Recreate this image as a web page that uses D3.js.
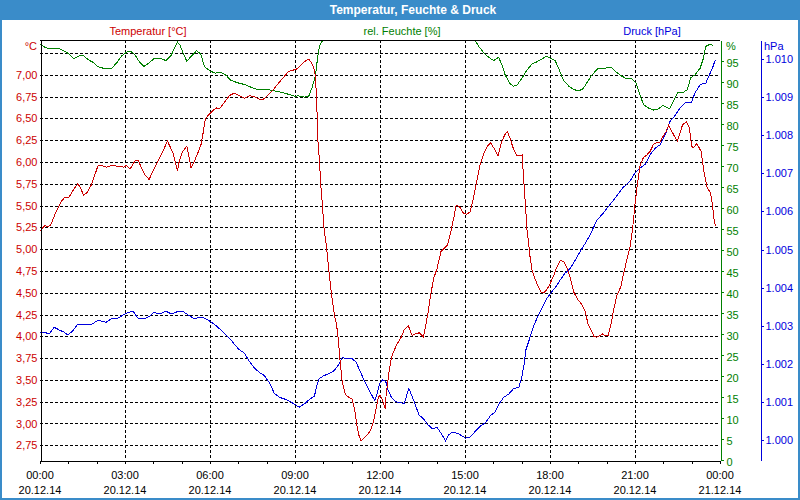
<!DOCTYPE html>
<html><head><meta charset="utf-8">
<script src="https://cdn.jsdelivr.net/npm/d3@7"></script>
<style>html,body{margin:0;padding:0;background:#fff;} svg{display:block;}</style>
</head><body><svg id="c" width="800" height="500"></svg>
<script>
// ---- data (minutes since 20.12.14 00:00) ----
const tempMin = [0,10,17,23,31,40,45,52,61,66,73,80,86,92,100,109,116,123,131,140,151,165,178,183,191,201,208,215,222,231,239,250,260,270,275,282,287,291,295,302,311,315,320,327,334,341,346,350,357,366,373,380,390,401,411,422,433,443,454,464,473,482,493,503,514,525,532,542,551,560,569,577,582,584,586,587,589,592,594,598,601,607,612,617,623,628,631,635,640,647,654,661,666,671,676,680,686,693,700,706,711,716,720,725,731,733,739,744,750,757,764,771,780,788,796,803,812,817,822,827,834,841,849,856,863,870,877,881,888,897,904,911,918,925,932,940,947,954,961,970,977,984,990,996,1002,1010,1021,1024,1028,1031,1035,1038,1042,1049,1055,1062,1070,1079,1088,1095,1102,1109,1116,1123,1130,1139,1148,1155,1160,1167,1173,1179,1186,1192,1196,1203,1209,1214,1221,1230,1235,1242,1249,1255,1260,1265,1271,1278,1285,1292,1299,1306,1313,1320,1326,1331,1338,1345,1350,1355,1361,1369,1375,1380,1383,1391,1400,1406,1412,1420,1424,1427,1430];
const tempVal = [5.21,5.27,5.26,5.28,5.39,5.49,5.55,5.59,5.59,5.64,5.70,5.75,5.70,5.62,5.65,5.74,5.85,5.96,5.96,5.94,5.96,5.95,5.94,5.96,5.92,6.01,6.02,5.93,5.85,5.80,5.89,6.01,6.12,6.24,6.18,6.10,5.99,5.90,6.01,6.12,6.18,6.07,5.93,6.01,6.10,6.20,6.35,6.49,6.54,6.59,6.62,6.61,6.68,6.76,6.79,6.76,6.73,6.76,6.75,6.72,6.72,6.76,6.82,6.89,6.96,7.03,7.05,7.06,7.10,7.15,7.18,7.12,7.04,6.89,6.74,6.47,6.20,6.01,5.78,5.51,5.26,5.01,4.74,4.49,4.26,4.13,4.00,3.75,3.48,3.33,3.30,3.28,3.17,2.98,2.85,2.80,2.83,2.87,2.92,3.02,3.15,3.29,3.33,3.27,3.17,3.33,3.59,3.75,3.84,3.92,3.98,4.07,4.12,4.01,4.03,4.04,3.99,4.13,4.28,4.47,4.67,4.78,4.97,5.01,5.05,5.20,5.38,5.50,5.49,5.41,5.40,5.43,5.59,5.78,5.97,6.10,6.18,6.22,6.16,6.07,6.22,6.31,6.35,6.26,6.16,6.07,6.08,5.82,5.51,5.24,5.05,4.90,4.76,4.65,4.57,4.50,4.51,4.59,4.70,4.80,4.87,4.86,4.78,4.67,4.51,4.42,4.36,4.28,4.15,4.07,4.00,3.99,4.01,4.03,4.01,4.01,4.13,4.28,4.46,4.57,4.70,4.86,5.01,5.24,5.51,5.74,5.97,6.05,6.08,6.12,6.20,6.22,6.23,6.30,6.35,6.42,6.35,6.28,6.24,6.33,6.43,6.46,6.39,6.18,6.16,6.21,6.12,5.89,5.72,5.64,5.51,5.36,5.27];

const humMin = [0,10,21,42,56,63,72,80,91,102,112,123,137,151,162,172,183,192,201,211,220,229,241,257,267,278,285,291,296,303,311,320,332,341,348,359,371,383,394,404,419,433,450,461,482,500,514,528,539,548,560,569,576,582,584,587,590,593,600,610,650,750,850,905,922,929,940,950,961,971,978,985,994,1002,1010,1021,1031,1042,1052,1063,1072,1081,1091,1098,1109,1120,1130,1141,1150,1158,1167,1182,1196,1209,1221,1232,1242,1253,1262,1269,1278,1289,1300,1309,1319,1326,1333,1341,1350,1362,1371,1378,1387,1398,1405,1410,1419,1426];
const humVal = [99.0,98.3,97.9,97.9,97.1,96.5,95.5,96.1,96.4,95.3,94.7,93.6,93.2,93.2,94.5,96.1,97.1,97.3,96.5,94.7,93.7,94.4,95.5,95.5,95.1,96.4,98.1,99.5,98.9,96.9,94.9,96.1,97.5,96.5,93.7,92.7,92.1,92.3,91.6,90.4,89.8,89.4,88.6,88.2,88.2,87.8,87.5,87.0,86.6,86.7,86.4,86.6,88.6,91.0,92.0,95.0,97.5,98.9,100.1,101.5,102.5,103.0,102.5,101.5,99.8,98.5,96.9,95.9,95.1,95.9,94.1,91.7,89.8,89.0,89.2,91.0,92.8,94.3,94.8,95.5,96.1,95.7,95.1,93.3,90.3,89.0,88.2,87.9,88.4,89.8,91.4,93.3,93.3,93.5,92.3,91.4,90.8,90.8,89.8,87.4,84.6,83.8,83.3,83.6,84.4,84.0,83.6,85.4,87.4,87.5,88.2,91.0,91.7,93.3,95.7,98.5,99.0,98.7];

const presMin = [0,10,19,30,42,51,59,70,80,95,110,121,133,140,151,162,172,183,197,202,209,222,232,241,253,267,278,289,302,313,327,341,355,369,383,394,404,414,422,433,443,454,464,475,486,496,507,517,528,539,549,560,570,581,586,591,601,612,623,631,640,649,661,669,678,686,695,702,709,714,720,726,732,737,744,753,764,771,776,781,788,796,803,812,820,831,841,849,859,866,873,887,901,911,922,932,943,954,963,971,982,993,1003,1014,1020,1025,1029,1036,1045,1055,1065,1074,1083,1093,1102,1112,1123,1134,1144,1155,1165,1179,1193,1207,1221,1235,1249,1260,1271,1282,1292,1303,1313,1324,1334,1345,1355,1366,1379,1387,1398,1410,1417,1424,1430];
const presVal = [1002.81,1002.83,1002.78,1002.96,1002.88,1002.83,1002.76,1002.87,1003.04,1003.04,1003.04,1003.13,1003.12,1003.09,1003.18,1003.18,1003.25,1003.33,1003.38,1003.29,1003.18,1003.18,1003.25,1003.35,1003.31,1003.38,1003.31,1003.36,1003.38,1003.29,1003.18,1003.23,1003.16,1003.04,1002.89,1002.76,1002.63,1002.48,1002.37,1002.28,1002.07,1001.89,1001.78,1001.69,1001.50,1001.23,1001.12,1001.08,1001.02,1000.94,1000.86,1000.95,1001.06,1001.15,1001.41,1001.61,1001.69,1001.74,1001.82,1001.95,1002.17,1002.13,1002.13,1002.05,1001.80,1001.58,1001.36,1001.19,1001.03,1001.23,1001.50,1001.58,1001.54,1001.32,1001.12,1001.00,1000.99,1000.94,1001.15,1001.35,1001.15,1000.88,1000.65,1000.56,1000.42,1000.29,1000.33,1000.18,999.98,1000.14,1000.21,1000.16,1000.05,1000.08,1000.23,1000.36,1000.45,1000.64,1000.73,1000.93,1001.12,1001.21,1001.35,1001.38,1001.63,1001.98,1002.37,1002.63,1002.98,1003.27,1003.51,1003.73,1003.88,1004.03,1004.21,1004.38,1004.51,1004.73,1004.95,1005.17,1005.39,1005.76,1005.96,1006.18,1006.40,1006.63,1006.79,1007.01,1007.14,1007.24,1007.49,1007.66,1007.75,1008.01,1008.36,1008.52,1008.71,1008.85,1008.85,1009.11,1009.33,1009.37,1009.57,1009.76,1009.98];

const timeLabels = ["00:00","03:00","06:00","09:00","12:00","15:00","18:00","21:00","00:00"];
const dateLabels = ["20.12.14","20.12.14","20.12.14","20.12.14","20.12.14","20.12.14","20.12.14","20.12.14","21.12.14"];
const tempTicks = [2.75,3.00,3.25,3.50,3.75,4.00,4.25,4.50,4.75,5.00,5.25,5.50,5.75,6.00,6.25,6.50,6.75,7.00];
const gridTicks = [2.75,3.00,3.25,3.50,3.75,4.00,4.25,4.50,4.75,5.00,5.25,5.50,5.75,6.00,6.25,6.50,6.75,7.00,7.25];
const humTicks = [0,5,10,15,20,25,30,35,40,45,50,55,60,65,70,75,80,85,90,95];
const presTicks = [1000,1001,1002,1003,1004,1005,1006,1007,1008,1009,1010];

// ---- setup ----
const FONT = "'Liberation Sans', Arial, sans-serif";
const RED = "#cc0000", GREEN = "#008000", BLUE = "#0000dd", FRAME = "#3a8cc9";
const L = 40, R = 720, T = 40, B = 460;
const de = d3.formatLocale({decimal: ",", thousands: ".", grouping: [3], currency: ["", "€"]});

const svg = d3.select("#c").style("font-family", FONT).style("font-size", "11px");
svg.append("rect").attr("width", 800).attr("height", 500).attr("fill", "#fff");
svg.append("rect").attr("x", 0).attr("y", 0).attr("width", 800).attr("height", 20).attr("fill", FRAME);
svg.append("rect").attr("x", 0).attr("y", 0).attr("width", 2).attr("height", 500).attr("fill", FRAME);
svg.append("rect").attr("x", 798).attr("y", 0).attr("width", 2).attr("height", 500).attr("fill", FRAME);
svg.append("rect").attr("x", 0).attr("y", 498).attr("width", 800).attr("height", 2).attr("fill", FRAME);
svg.append("text").attr("x", 413).attr("y", 14).attr("text-anchor", "middle")
  .attr("fill", "#fff").attr("font-weight", "bold").attr("font-size", "12px")
  .text("Temperatur, Feuchte & Druck");

const x = d3.scaleLinear().domain([0, 1440]).range([L, R]);
const yT = d3.scaleLinear().domain([2.581, 7.399]).range([B, T]);
const yH = d3.scaleLinear().domain([0, 100]).range([B, T]);
const yP = d3.scaleLinear().domain([999.475, 1010.5]).range([B, T]);
const px = v => Math.round(v) + 0.5;

// grid
const grid = svg.append("g").attr("stroke", "#000").attr("stroke-dasharray", "3,2").attr("shape-rendering", "crispEdges");
grid.selectAll("line.h").data(gridTicks).join("line").attr("class", "h")
  .attr("x1", L).attr("x2", R).attr("y1", d => px(yT(d))).attr("y2", d => px(yT(d)));
grid.selectAll("line.v").data(d3.range(180, 1440, 180)).join("line").attr("class", "v")
  .attr("y1", T).attr("y2", B).attr("x1", d => px(x(d))).attr("x2", d => px(x(d)));

// series
svg.append("clipPath").attr("id", "clip").append("rect").attr("x", L).attr("y", T).attr("width", R - L).attr("height", B - T);
const series = [
  [humMin, humVal, yH, GREEN],
  [presMin, presVal, yP, BLUE],
  [tempMin, tempVal, yT, RED]
];
series.forEach(([m, v, ys, col]) => {
  const pts = d3.zip(m, v);
  svg.append("path").datum(pts).attr("clip-path", "url(#clip)")
    .attr("fill", "none").attr("stroke", col).attr("stroke-width", 1)
    .attr("shape-rendering", "crispEdges")
    .attr("d", d3.line().x(d => x(d[0])).y(d => ys(d[1])));
});

// frame top
svg.append("line").attr("x1", L).attr("x2", R).attr("y1", T + 0.5).attr("y2", T + 0.5).attr("stroke", "#000").attr("shape-rendering", "crispEdges");

// left axis
const ax = svg.append("g").attr("transform", `translate(${L + 0.5},0)`)
  .call(d3.axisLeft(yT).tickValues(tempTicks).tickSize(0).tickSizeOuter(0).tickPadding(3).tickFormat(de.format(".2f")));
ax.select(".domain").attr("stroke", "#000").attr("shape-rendering", "crispEdges");
ax.selectAll("text").attr("fill", RED).attr("font-family", FONT).attr("font-size", "11px");
ax.attr("font-family", null).attr("font-size", null);

// bottom axis
const bx = svg.append("g").attr("transform", `translate(0,${B + 0.5})`)
  .call(d3.axisBottom(x).tickValues(d3.range(0, 1441, 60)).tickSize(3).tickSizeOuter(0).tickFormat(""));
bx.selectAll("path,line").attr("stroke", "#000").attr("shape-rendering", "crispEdges");
const lbl = svg.append("g").attr("text-anchor", "middle").attr("fill", "#000");
lbl.selectAll("text.t").data(timeLabels).join("text").attr("class", "t")
  .attr("x", (d, i) => x(i * 180)).attr("y", 479).text(d => d);
lbl.selectAll("text.d").data(dateLabels).join("text").attr("class", "d")
  .attr("x", (d, i) => x(i * 180)).attr("y", 494).text(d => d);

// humidity axis
const hx = svg.append("g").attr("transform", `translate(${R + 0.5},0)`)
  .call(d3.axisRight(yH).tickValues(humTicks).tickSize(3).tickSizeOuter(0).tickPadding(3));
hx.selectAll("path,line").attr("stroke", GREEN).attr("shape-rendering", "crispEdges");
hx.selectAll("text").attr("fill", GREEN).attr("font-family", FONT).attr("font-size", "11px").attr("dy", "0.5em");
hx.attr("font-family", null).attr("font-size", null);

// pressure axis
const pxs = svg.append("g").attr("transform", `translate(760.5,0)`)
  .call(d3.axisRight(yP).tickValues(presTicks).tickSize(3).tickSizeOuter(0).tickPadding(2).tickFormat(de.format(",")));
pxs.selectAll("path,line").attr("stroke", BLUE).attr("shape-rendering", "crispEdges");
pxs.selectAll("text").attr("fill", BLUE).attr("font-family", FONT).attr("font-size", "11px");
pxs.attr("font-family", null).attr("font-size", null);

// headings & units
svg.append("text").attr("x", 148).attr("y", 35).attr("text-anchor", "middle").attr("fill", RED).text("Temperatur [°C]");
svg.append("text").attr("x", 402).attr("y", 35).attr("text-anchor", "middle").attr("fill", GREEN).text("rel. Feuchte [%]");
svg.append("text").attr("x", 652).attr("y", 35).attr("text-anchor", "middle").attr("fill", BLUE).text("Druck [hPa]");
svg.append("text").attr("x", 37).attr("y", 50).attr("text-anchor", "end").attr("fill", RED).text("°C");
svg.append("text").attr("x", 726).attr("y", 50).attr("fill", GREEN).text("%");
svg.append("text").attr("x", 764).attr("y", 50).attr("fill", BLUE).text("hPa");
</script></body></html>
